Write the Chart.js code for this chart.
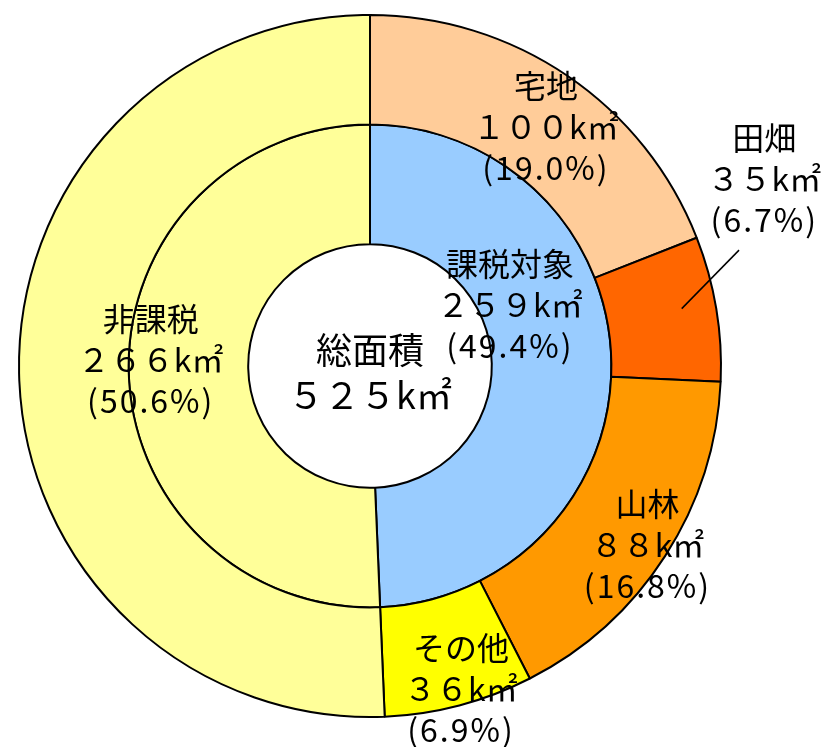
<!DOCTYPE html>
<html>
<head>
<meta charset="utf-8">
<script src="https://cdn.jsdelivr.net/npm/chart.js@4/dist/chart.umd.min.js"></script>
<style>
  html, body { margin: 0; padding: 0; background: #fff; }
  #wrap { width: 828px; height: 747px; }
</style>
</head>
<body>
<div id="wrap"><canvas id="areaChart"></canvas></div>
<script>
// データ
const outerLabels = ['宅地', '田畑', '山林', 'その他', '非課税'];
const outerValues = [100, 35, 88, 36, 266];
const outerPct = [19.0, 6.7, 16.8, 6.9, 50.6];
const outerColors = ['#FFCC99', '#FF6600', '#FF9900', '#FFFF00', '#FFFF99'];

const innerLabels = ['課税対象', '非課税'];
const innerValues = [259, 266];
const innerPct = [49.4, 50.6];
const innerColors = ['#99CCFF', '#FFFF99'];

const totalLabel = '総面積';
const totalValue = 525;

// 全角数字 + k㎡
function kmText(v) {
    return String(v).replace(/\d/g, d => String.fromCharCode(d.charCodeAt(0) + 0xFEE0)) + 'k㎡';
}
function pctText(p) {
    return '(' + p.toFixed(1) + '%)';
}

// ラベル配置（ds: データセット, i: 要素, r: 半径比, da: 角度ずれ[度]）
const labelPlacement = [
    { ds: 0, i: 0, r: 0.847, da: 2 },
    { ds: 0, i: 1, r: 1.244, da: -16, leader: [0.903, -1, 1.102, -8] },
    { ds: 0, i: 2, r: 0.94, da: 0 },
    { ds: 0, i: 3, r: 0.955, da: -1 },
    { ds: 0, i: 4, r: 0.625, da: 2.7 },
    { ds: 1, i: 0, r: 0.435, da: -22.4 }
];

const FONT = '"Noto Sans CJK JP", "Noto Sans", sans-serif';

const labelPlugin = {
    id: 'ringLabels',
    afterDatasetsDraw(chart) {
        const ctx = chart.ctx;
        const outerArc = chart.getDatasetMeta(0).data[0];
        const R = outerArc.outerRadius;
        const cx = outerArc.x, cy = outerArc.y;
        const lh = 41;

        ctx.save();
        ctx.fillStyle = '#000';
        ctx.textAlign = 'center';
        ctx.textBaseline = 'middle';

        labelPlacement.forEach(p => {
            const arc = chart.getDatasetMeta(p.ds).data[p.i];
            const mid = (arc.startAngle + arc.endAngle) / 2;
            const labels = p.ds === 0 ? outerLabels : innerLabels;
            const values = p.ds === 0 ? outerValues : innerValues;
            const pcts = p.ds === 0 ? outerPct : innerPct;
            const a = mid + p.da * Math.PI / 180;
            const x = cx + Math.cos(a) * R * p.r;
            const y = cy + Math.sin(a) * R * p.r;
            const lines = [labels[p.i], kmText(values[p.i]), pctText(pcts[p.i])];
            lines.forEach((t, k) => {
                ctx.font = '32px ' + FONT;
                ctx.letterSpacing = k === 2 ? '2px' : '0px';
                ctx.fillText(t, x, y + (k - 1) * lh);
            });

            if (p.leader) {
                const a1 = mid + p.leader[1] * Math.PI / 180;
                const a2 = mid + p.leader[3] * Math.PI / 180;
                ctx.beginPath();
                ctx.strokeStyle = '#000';
                ctx.lineWidth = 1.5;
                ctx.moveTo(cx + Math.cos(a1) * R * p.leader[0], cy + Math.sin(a1) * R * p.leader[0]);
                ctx.lineTo(cx + Math.cos(a2) * R * p.leader[2], cy + Math.sin(a2) * R * p.leader[2]);
                ctx.stroke();
            }
        });

        // 中央の総面積
        ctx.letterSpacing = '0px';
        ctx.font = '36px ' + FONT;
        ctx.fillText(totalLabel, cx, cy - 16);
        ctx.fillText(kmText(totalValue), cx, cy + 29);
        ctx.restore();
    }
};

new Chart(document.getElementById('areaChart'), {
    type: 'doughnut',
    data: {
        labels: outerLabels,
        datasets: [
            {
                data: outerValues,
                backgroundColor: outerColors,
                borderColor: '#000',
                borderWidth: 2,
                weight: 110
            },
            {
                data: innerValues,
                backgroundColor: innerColors,
                borderColor: '#000',
                borderWidth: 2,
                weight: 120
            }
        ]
    },
    options: {
        responsive: true,
        maintainAspectRatio: false,
        animation: false,
        cutout: '34.7%',
        layout: {
            padding: { left: 18, right: 106, top: 14, bottom: 29 }
        },
        plugins: {
            legend: { display: false },
            tooltip: { enabled: false }
        }
    },
    plugins: [labelPlugin]
});
</script>
</body>
</html>
